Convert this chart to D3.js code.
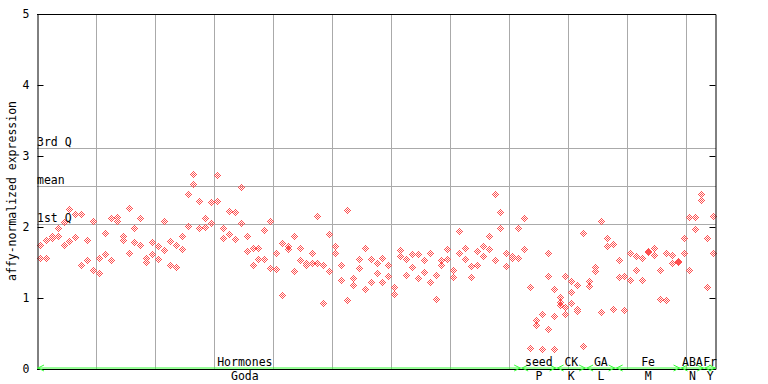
<!DOCTYPE html>
<html>
<head>
<meta charset="utf-8">
<script src="https://cdn.jsdelivr.net/npm/d3@7"></script>
<style>
  body { margin: 0; background: #fff; }
  text { font-family: "DejaVu Sans Mono", monospace; font-size: 11.5px; fill: #000; }
</style>
</head>
<body>
<script>
// replicate values per sample (sample index = position in array)
const rep1 = [1.75, 1.81, 1.87, 1.98, 2.07, 2.25, 2.18, 2.18, 1.81, 2.08,
  1.56, 1.91, 2.13, 2.14, 1.87, 2.27, 1.98, 2.13, 1.57, 1.79,
  1.73, 2.08, 1.80, 1.75, 1.87, 2.47, 2.74, 2.36, 2.12, 2.35,
  2.73, 1.98, 2.23, 2.21, 2.56, 1.88, 1.70, 1.71, 1.96, 2.09,
  1.63, 1.77, 1.73, 1.88, 1.70, 1.46, 1.64, 2.16, 1.47, 1.90,
  1.73, 1.46, 2.24, 1.28, 1.55, 1.71, 1.55, 1.49, 1.57, 1.47,
  1.16, 1.67, 1.55, 1.62, 1.62, 1.53, 1.64, 1.33, 1.53, 1.69,
  1.40, 1.95, 1.71, 1.45, 1.66, 1.73, 1.87, 2.46, 2.21, 1.64,
  1.59, 1.98, 2.12, 1.16, 0.69, 0.77, 1.64, 1.12, 1.01, 1.31,
  1.24, 1.18, 1.91, 1.24, 1.43, 2.09, 1.84, 1.76, 1.54, 1.31,
  1.63, 1.59, 1.56, 1.667, 1.70, 1.40, 1.64, 1.60, 1.52, 1.85,
  2.14, 2.14, 2.47, 1.85, 2.16];
const rep2 = [1.56, 1.56, 1.85, 1.87, 1.75, 1.80, 1.86, 1.47, 1.54, 1.39,
  1.35, 1.62, 1.54, 2.08, 1.81, 1.63, 1.79, 1.75, 1.51, 1.62,
  1.55, 1.68, 1.47, 1.43, 1.69, 2.01, 2.60, 1.98, 2.00, 2.05,
  2.36, 1.84, 1.90, 1.83, 2.05, 1.66, 1.47, 1.55, 1.55, 1.42,
  1.41, 1.04, 1.69, 1.38, 1.53, 1.50, 1.50, 1.50, 0.93, 1.38,
  1.64, 1.26, 0.97, 1.19, 1.42, 1.12, 1.22, 1.35, 1.22, 1.31,
  1.05, 1.59, 1.32, 1.43, 1.28, 1.36, 1.22, 0.98, 1.47, 1.55,
  1.29, 1.63, 1.55, 1.29, 1.47, 1.59, 1.69, 1.53, 1.98, 1.45,
  1.56, 1.56, 1.69, 0.29, 0.62, 0.28, 1.31, 0.74, 0.95, 0.88,
  1.08, 0.84, 0.32, 1.17, 1.38, 0.80, 1.73, 0.84, 1.29, 0.83,
  1.25, 1.39, 1.26, 1.653, 1.60, 0.98, 0.97, 1.49, 1.51, 1.64,
  1.40, 1.97, 2.38, 1.15, 1.64];
const rep3 = {86: 0.56, 87: 0.28, 88: 0.90, 89: 0.78, 90: 0.93, 91: 0.81};

// reference lines
const refLabels = ['3rd Q', 'mean', '1st Q'];
const refValues = [3.11, 2.58, 2.04];

// categories: label above axis, label below axis, first sample, sample count
const catTop = ['Hormones', 'seed', 'CK', 'GA', 'Fe', 'ABA', 'Fr'];
const catBottom = ['Goda', 'P', 'K', 'L', 'M', 'N', 'Y'];
const catStart = [0, 82, 88, 93, 98, 109, 113];
const catCount = [82, 6, 5, 5, 11, 4, 2];
const catLabelAt = [35.2, null, null, null, null, null, null];

const yTicks = [0, 1, 2, 3, 4, 5];
const nSamples = rep1.length;

const W = 768, H = 384;
const mLeft = 37, mRight = 716, mTop = 14, mBottom = 369;

const svg = d3.select('body').append('svg')
  .attr('width', W)
  .attr('height', H);

const x = d3.scaleLinear().domain([0, nSamples]).range([mLeft, mRight]);
const y = d3.scaleLinear().domain([0, 5]).range([mBottom, mTop]);

const crisp = v => Math.round(v) + 0.5;
const grid = '#aaa';

// vertical grid every 10 samples
svg.append('g')
  .selectAll('line')
  .data(d3.range(10, nSamples, 10))
  .join('line')
  .attr('x1', d => crisp(x(d)))
  .attr('x2', d => crisp(x(d)))
  .attr('y1', mTop)
  .attr('y2', mBottom)
  .attr('stroke', grid);

// quartile / mean lines
svg.append('g')
  .selectAll('line')
  .data(refValues)
  .join('line')
  .attr('x1', mLeft)
  .attr('x2', mRight)
  .attr('y1', d => crisp(y(d)))
  .attr('y2', d => crisp(y(d)))
  .attr('stroke', grid);

svg.append('g')
  .selectAll('text')
  .data(refLabels)
  .join('text')
  .attr('x', mLeft)
  .attr('y', (d, i) => Math.round(y(refValues[i])) - 2)
  .text(d => d);

// checkered diamond marker, pixel by pixel
const offsets = [];
for (let dy = -3; dy <= 3; dy++) {
  for (let dx = -3; dx <= 3; dx++) {
    const m = Math.abs(dx) + Math.abs(dy);
    if (m === 1 || m === 3) offsets.push([dx, dy]);
  }
}
const diamond = d => {
  const cx = Math.round(x(d.i + 0.5));
  const cy = Math.round(y(d.v));
  return offsets.map(([dx, dy]) => `M${cx + dx},${cy + dy}h1v1h-1z`).join('');
};

const points = [];
rep1.forEach((v, i) => points.push({ i, v }));
rep2.forEach((v, i) => points.push({ i, v }));
Object.entries(rep3).forEach(([i, v]) => points.push({ i: +i, v }));

svg.append('g')
  .attr('shape-rendering', 'crispEdges')
  .selectAll('path')
  .data(points)
  .join('path')
  .attr('d', diamond)
  .attr('fill', '#ff4f4f');

// axes
const yAxisL = d3.axisLeft(y)
  .tickValues(yTicks)
  .tickSizeInner(-6)
  .tickSizeOuter(0)
  .tickPadding(8)
  .tickFormat(d3.format('d'));

const gl = svg.append('g')
  .attr('transform', `translate(${mLeft + 0.5},0)`)
  .call(yAxisL);
gl.selectAll('text')
  .style('font-family', '"DejaVu Sans Mono", monospace')
  .style('font-size', '11.5px');
gl.selectAll('line, path').attr('stroke', '#000');

const gr = svg.append('g')
  .attr('transform', `translate(${mRight - 0.5},0)`)
  .call(d3.axisRight(y).tickValues(yTicks).tickSizeInner(-6).tickSizeOuter(0).tickFormat(''));
gr.selectAll('line, path').attr('stroke', '#000');

svg.append('line')
  .attr('x1', mLeft).attr('x2', mRight)
  .attr('y1', mTop + 0.5).attr('y2', mTop + 0.5)
  .attr('stroke', '#000');
svg.append('line')
  .attr('x1', mLeft).attr('x2', mRight)
  .attr('y1', mBottom + 0.5).attr('y2', mBottom + 0.5)
  .attr('stroke', '#000');

// y title
svg.append('text')
  .attr('transform', 'translate(15.5,191) rotate(-90)')
  .attr('text-anchor', 'middle')
  .text('affy-normalized expression');

// category ranges with arrows
const green = '#3f3';
const cats = catTop.map((t, k) => ({
  top: t,
  bottom: catBottom[k],
  x0: x(catStart[k]),
  x1: x(catStart[k] + catCount[k]),
  mid: x(catLabelAt[k] != null ? catLabelAt[k] : catStart[k] + catCount[k] / 2),
}));

const gc = svg.append('g');
gc.selectAll('line')
  .data(cats)
  .join('line')
  .attr('x1', d => d.x0)
  .attr('x2', d => d.x1)
  .attr('y1', mBottom - 1)
  .attr('y2', mBottom - 1)
  .attr('stroke', green);

gc.selectAll('path.l')
  .data(cats)
  .join('path')
  .attr('class', 'l')
  .attr('d', d => `M${d.x0 + 7},${mBottom - 4}L${d.x0 + 1},${mBottom - 1}L${d.x0 + 7},${mBottom + 2}`)
  .attr('fill', 'none')
  .attr('stroke', green);

gc.selectAll('path.r')
  .data(cats)
  .join('path')
  .attr('class', 'r')
  .attr('d', d => `M${d.x1 - 7},${mBottom - 4}L${d.x1 - 1},${mBottom - 1}L${d.x1 - 7},${mBottom + 2}`)
  .attr('fill', 'none')
  .attr('stroke', green);

gc.selectAll('text.top')
  .data(cats)
  .join('text')
  .attr('class', 'top')
  .attr('x', d => d.mid)
  .attr('y', mBottom - 3)
  .attr('text-anchor', 'middle')
  .text(d => d.top);

gc.selectAll('text.bot')
  .data(cats)
  .join('text')
  .attr('class', 'bot')
  .attr('x', d => d.mid)
  .attr('y', mBottom + 11)
  .attr('text-anchor', 'middle')
  .text(d => d.bottom);
</script>
</body>
</html>
